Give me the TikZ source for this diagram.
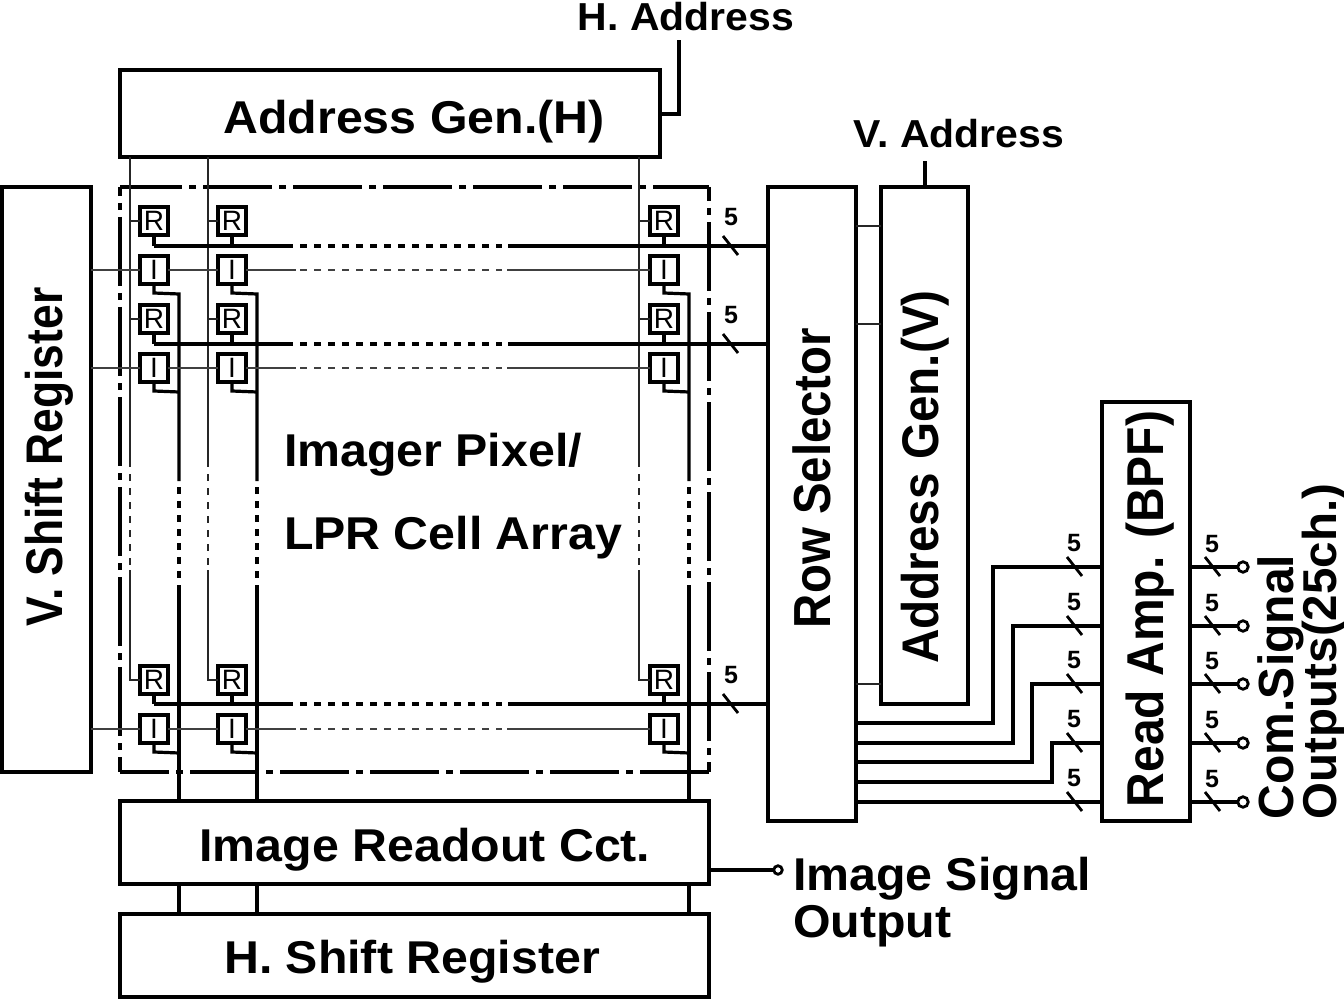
\documentclass[tikz,border=0pt]{standalone}
\usepackage{fontspec}
\usepackage{graphicx}
\setmainfont{Liberation Sans}
\newcommand{\hlab}[2]{\scalebox{1.05}[1]{\fontsize{#1}{#1}\selectfont\bfseries #2}}
\newcommand{\vlab}[3]{\scalebox{1}[#1]{\fontsize{#2}{#2}\selectfont\bfseries #3}}
\tikzset{
  bigbox/.style={draw=black,line width=3.5pt,fill=white,inner sep=0pt,outer sep=0pt},
  cellbox/.style={draw=black,line width=3.2pt,fill=white,inner sep=0pt,outer sep=0pt,minimum width=28pt,minimum height=28pt,font=\fontsize{28}{28}\selectfont},
  lab/.style={inner sep=0pt,outer sep=0pt,anchor=base},
  labl/.style={inner sep=0pt,outer sep=0pt,anchor=base west},
  vlabel/.style={inner sep=0pt,outer sep=0pt,anchor=base,rotate=90},
  vlabell/.style={inner sep=0pt,outer sep=0pt,anchor=base west,rotate=90},
  num/.style={inner sep=0pt,outer sep=0pt,font=\fontsize{25}{25}\selectfont\bfseries},
  thin line/.style={line width=2.2pt,draw=black!75},
  feed line/.style={line width=2.6pt,draw=black!85},
  out line/.style={line width=3.2pt,draw=black},
  bus line/.style={line width=4pt,draw=black},
  wire/.style={line width=3.2pt,draw=black},
  tick/.style={line width=2.8pt,draw=black},
  dotted seg/.style={dash pattern=on 7pt off 7pt},
  frame line/.style={line width=3.2pt,draw=black,dash pattern=on 69pt off 7pt on 7pt off 7pt},
  term/.style={circle,draw=black,line width=2.8pt,fill=white,inner sep=0pt,outer sep=0pt,minimum size=10.5pt},
  termsmall/.style={term,minimum size=8.5pt},
}
\begin{document}
\begin{tikzpicture}[x=1pt,y=-1pt]
\useasboundingbox (0,0) rectangle (1344,1000);
\fill[white] (0,0) rectangle (1344,1000);

% frame
\draw[frame line,dash phase=7pt] (120,187) -- (709,187);
\draw[frame line,dash phase=20pt] (120,772) -- (709,772);
\draw[frame line,dash phase=60pt] (120,187) -- (120,772);
\draw[frame line,dash phase=55pt] (709,187) -- (709,772);

% blocks
\node[bigbox,minimum width=540pt,minimum height=87pt] (AGH) at (390,113.5) {};
\node[bigbox,minimum width=89pt,minimum height=585pt] (VSR) at (46.5,479.5) {};
\node[bigbox,minimum width=88pt,minimum height=634pt] (RS) at (812,504) {};
\node[bigbox,minimum width=87pt,minimum height=517pt] (AGV) at (924.5,445.5) {};
\node[bigbox,minimum width=88pt,minimum height=419pt] (RA) at (1146,611.5) {};
\node[bigbox,minimum width=589pt,minimum height=83pt] (IRC) at (414.5,842.5) {};
\node[bigbox,minimum width=589pt,minimum height=83pt] (HSR) at (414.5,955.5) {};

% cells
\foreach \r/\ry/\iy in {a/221/270,b/319/368,c/680/729}{
  \foreach \c/\cx in {A/154,B/232,C/664}{
    \node[cellbox] (R\c\r) at (\cx,\ry) {R};
    \node[cellbox] (I\c\r) at (\cx,\iy) {I};
  }
}

% feed lines from the H address generator, with stubs to R cells
\foreach \c/\x in {A/130,B/208,C/639}{
  \draw[feed line] (AGH.south -| \x,0) -- (\x,467);
  \draw[feed line,dotted seg] (\x,474) -- (\x,566);
  \draw[feed line] (\x,570) -- (\x,680) -- (R\c c.west);
  \draw[feed line] (\x,221) -- (R\c a.west);
  \draw[feed line] (\x,319) -- (R\c b.west);
}

% output lines from I cells to the readout circuit and the shift register
\foreach \c/\x in {A/179,B/257,C/689}{
  \draw[out line] (I\c a.south) -- ++(0,9) -- (\x,294) -- (\x,481);
  \draw[out line,dotted seg] (\x,487) -- (\x,579);
  \draw[out line] (\x,585) -- (IRC.north -| \x,0);
  \draw[out line] (I\c b.south) -- ++(0,9) -- (\x,392);
  \draw[out line] (I\c c.south) -- ++(0,9) -- (\x,753);
  \draw[out line] (IRC.south -| \x,0) -- (HSR.north -| \x,0);
}

% row buses and image lines
\foreach \r/\by in {a/246,b/344,c/704}{
  \foreach \c in {A,B,C}{ \draw[bus line] (R\c\r.south) -- (R\c\r.south |- 0,\by); }
  \draw[bus line] (RA\r.south |- 0,\by) -- (293,\by);
  \draw[bus line,dotted seg] (300,\by) -- (502,\by);
  \draw[bus line] (508,\by) -- (RS.west |- 0,\by);
  \draw[tick] (731,\by) ++(-8,-10) -- ++(15,19);
  \node[num] (n\r) at (731,\by-29) {5};
  \draw[thin line] (VSR.east |- IA\r.west) -- (IA\r.west);
  \draw[thin line] (IA\r.east) -- (IB\r.west);
  \draw[thin line] (IB\r.east) -- (IB\r.east -| 296,0);
  \draw[thin line,dotted seg] (IB\r.east -| 300,0) -- (IB\r.east -| 502,0);
  \draw[thin line] (IB\r.east -| 507,0) -- (IC\r.west);
}

% address generator links
\foreach \y in {226,324,684}{ \draw[feed line] (RS.east |- 0,\y) -- (AGV.west |- 0,\y); }
\coordinate (hadr) at (679,40);
\draw[wire] (AGH.east |- 0,114) -- (hadr |- 0,114) -- (hadr);
\coordinate (vadr) at (925,161);
\draw[wire] (AGV.north -| vadr) -- (vadr);

% row selector to read amplifier
\foreach \ya/\xm/\yb in {723/993/567,743/1013/626,762/1032/684,782/1052/743,802/1060/802}{
  \draw[wire] (RS.east |- 0,\ya) -- (\xm,\ya) -- (\xm,\yb) -- (RA.west |- 0,\yb);
}
\foreach \k/\y in {a/567,b/626,c/684,d/743,e/802}{
  \draw[tick] (1074,\y) ++(-7,-10) -- ++(15,19);
  \node[num] (p\k) at (1074,\y-24) {5};
  \node[term] (O\k) at (1243,\y) {};
  \draw[wire] (RA.east |- 0,\y) -- (O\k.west);
  \draw[tick] (1212,\y) ++(-7,-10) -- ++(15,19);
  \node[num] (q\k) at (1212,\y-23) {5};
}

% image output
\node[termsmall] (IO) at (778,870) {};
\draw[wire] (IRC.east |- IO.west) -- (IO.west);

% labels
\node[lab] (t1) at (686,31) {\hlab{39}{H. Address}};
\node[lab] (t2) at (959,148) {\hlab{39}{V. Address}};
\node[lab] (t3) at (414,134) {\hlab{46}{Address Gen.(H)}};
\node[labl] (t4) at (284,466) {\hlab{46}{Imager Pixel/}};
\node[labl] (t5) at (284,549) {\hlab{46}{LPR Cell Array}};
\node[lab] (t6) at (425,861) {\hlab{46}{Image Readout Cct.}};
\node[lab] (t7) at (412,973) {\hlab{46}{H. Shift Register}};
\node[labl] (t8) at (793,890) {\hlab{46}{Image Signal}};
\node[labl] (t9) at (793,937) {\hlab{46}{Output}};
\node[vlabel] (t10) at (62,457) {\vlab{1.16}{44.4}{V. Shift Register}};
\node[vlabel] (t11) at (830,478) {\vlab{1.1}{47.4}{Row Selector}};
\node[vlabel] (t12) at (938,477) {\vlab{1.08}{47.7}{Address Gen.(V)}};
\node[vlabel] (t13) at (1163,609) {\vlab{1.08}{48}{Read Amp. (BPF)}};
\node[vlabell] (t14) at (1293,819) {\vlab{1.03}{48}{Com.Signal}};
\node[vlabell] (t15) at (1336,819) {\vlab{1.0}{47.5}{Outputs(25ch.)}};
\end{tikzpicture}
\end{document}
